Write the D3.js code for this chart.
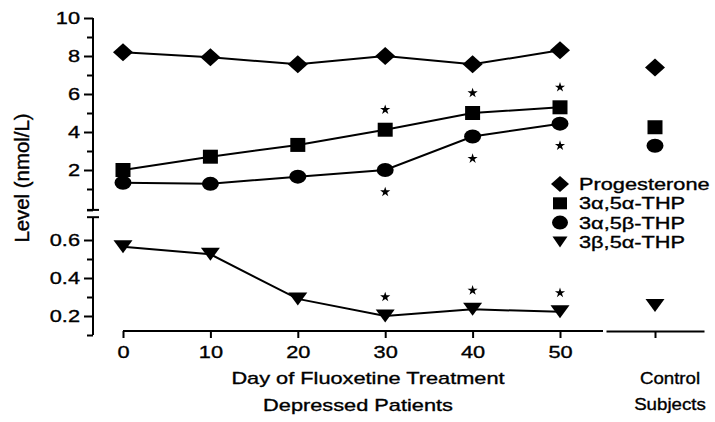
<!DOCTYPE html>
<html>
<head>
<meta charset="utf-8">
<script src="https://cdn.jsdelivr.net/npm/d3@7"></script>
<style>
  body { margin: 0; background: #fff; }
  text { font-family: "Liberation Sans", Arial, Helvetica, sans-serif; font-size: 17px; fill: #000; stroke: #000; stroke-width: 0.35px; }
</style>
</head>
<body>
<svg id="chart" width="715" height="422"></svg>
<script>
// Steroid levels (nmol/L) over the course of fluoxetine treatment
const days = [0, 10, 20, 30, 40, 50];
const progesterone = [8.2, 7.93, 7.56, 8.0, 7.56, 8.3];
const thp3a5a = [2.0, 2.7, 3.32, 4.12, 5.0, 5.3];
const thp3a5b = [1.33, 1.27, 1.65, 2.0, 3.76, 4.44];
const thp3b5a = [0.565, 0.525, 0.29, 0.2, 0.235, 0.222];

// Control subjects, same order as the series names
const seriesNames = ["Progesterone", "3\u03b1,5\u03b1-THP", "3\u03b1,5\u03b2-THP", "3\u03b2,5\u03b1-THP"];
const controlValues = [7.4, 4.25, 3.28, 0.255];
const controlLabel = ["Control", "Subjects"];

// Days with a significant change (asterisks)
const sigDays3a5a = [30, 40, 50];
const sigDays3a5b = [30, 40, 50];
const sigDays3b5a = [30, 40, 50];

// Axis ticks
const dayTicks = [0, 10, 20, 30, 40, 50];
const upperMajor = [2, 4, 6, 8, 10];
const upperMinor = [1, 3, 5, 7, 9, -0.1];
const lowerMajor = [0.2, 0.4, 0.6];
const lowerMinor = [0.1, 0.3, 0.5];

const svg = d3.select("#chart");
const STRETCH = 1.28;   // wide lettering of the figure

const x = d3.scaleLinear().domain([0, 50]).range([123, 560]);
const xCtrl = d3.scalePoint().domain(["Control"]).range([606, 704]).padding(0.5);
const yUp = d3.scaleLinear().domain([0, 10]).range([208, 18]);
const yLow = d3.scaleLinear().domain([0.2, 0.6]).range([316, 240]);
const axisX = 93, axisY = 331;

// Widen text horizontally around its anchor point
function widen(sel, k = STRETCH) {
  sel.each(function () {
    const t = d3.select(this);
    const tx = +t.attr("x") || 0, ty = +t.attr("y") || 0;
    t.attr("x", 0).attr("y", 0).attr("transform", `translate(${tx},${ty}) scale(${k},1)`);
  });
}

// ---- y axes (broken) ----
function yAxisPart(scale, major, minor, fmt, lo, hi) {
  const g = svg.append("g").attr("transform", `translate(${axisX},0)`);
  g.append("g").call(d3.axisLeft(scale).tickValues(major).tickSize(9).tickPadding(4).tickFormat(fmt))
    .call(a => a.select(".domain").remove());
  g.append("g").call(d3.axisLeft(scale).tickValues(minor).tickSize(6).tickFormat(""))
    .call(a => a.select(".domain").remove());
  g.append("line").attr("x1", 0).attr("x2", 0)
    .attr("y1", scale(hi)).attr("y2", scale(lo));
  g.selectAll("line").attr("stroke", "#000").attr("stroke-width", 2);
  g.selectAll(".tick text").style("font-size", "17px").attr("fill", "#000").call(widen);
  return g;
}
const gUp = yAxisPart(yUp, upperMajor, upperMinor, d3.format("d"), -0.1, 10);
const gLow = yAxisPart(yLow, lowerMajor, lowerMinor, d3.format(".1f"), 0.1, 0.72);
// break caps
[[gUp, yUp(-0.1)], [gLow, yLow(0.72)]].forEach(([g, yy]) => {
  g.append("line").attr("x1", -6).attr("x2", 6).attr("y1", yy).attr("y2", yy)
    .attr("stroke", "#000").attr("stroke-width", 2);
});

svg.append("text")
  .attr("transform", "translate(29,178) rotate(-90) scale(1.2,1.15)")
  .attr("text-anchor", "middle")
  .text("Level (nmol/L)");

// ---- x axes ----
const gx = svg.append("g").attr("transform", `translate(0,${axisY})`);
gx.call(d3.axisBottom(x).tickValues(dayTicks).tickSize(7).tickPadding(8).tickFormat(d3.format("d")))
  .call(a => a.select(".domain").remove());
gx.append("line").attr("x1", x(0)).attr("x2", 603).attr("y1", 0).attr("y2", 0);
gx.selectAll("line").attr("stroke", "#000").attr("stroke-width", 2);
gx.selectAll(".tick text").style("font-size", "17px").attr("fill", "#000").call(widen);

const gc = svg.append("g").attr("transform", `translate(0,${axisY})`);
gc.call(d3.axisBottom(xCtrl).tickSize(7).tickSizeOuter(0).tickFormat(""));
gc.select(".domain").attr("stroke", "#000").attr("stroke-width", 2);
gc.selectAll("line").attr("stroke", "#000").attr("stroke-width", 2);

function label(txt, cx, by, k) {
  svg.append("text").attr("x", cx).attr("y", by).attr("text-anchor", "middle").text(txt).call(widen, k);
}
label("Day of Fluoxetine Treatment", 368, 384);
label("Depressed Patients", 358, 411);
label(controlLabel[0], 670, 384, 1.1);
label(controlLabel[1], 670, 410, 1.1);

// ---- marker shapes ----
const shapes = {
  diamond: (w, h) => `M0,${-h / 2}L${w / 2},0L0,${h / 2}L${-w / 2},0Z`,
  square: (w, h) => `M${-w / 2},${-h / 2}h${w}v${h}h${-w}Z`,
  circle: (w, h) => `M${-w / 2},0a${w / 2},${h / 2} 0 1,0 ${w},0a${w / 2},${h / 2} 0 1,0 ${-w},0Z`,
  triangle: (w, h) => `M${-w / 2},${-h / 2}L${w / 2},${-h / 2}L0,${h / 2}Z`
};
const series = [
  { name: seriesNames[0], values: progesterone, y: yUp, shape: "diamond", w: 20, h: 18, lw: 18, lh: 16 },
  { name: seriesNames[1], values: thp3a5a, y: yUp, shape: "square", w: 15, h: 14, lw: 14, lh: 12 },
  { name: seriesNames[2], values: thp3a5b, y: yUp, shape: "circle", w: 17, h: 14, lw: 16, lh: 14 },
  { name: seriesNames[3], values: thp3b5a, y: yLow, shape: "triangle", w: 19, h: 13, lw: 15, lh: 11 }
];

const line = d3.line();
series.forEach((s, i) => {
  const pts = days.map((d, j) => [x(d), s.y(s.values[j])]);
  svg.append("path").attr("d", line(pts)).attr("fill", "none")
    .attr("stroke", "#000").attr("stroke-width", 2);
  svg.append("g").selectAll("path").data(pts).join("path")
    .attr("transform", p => `translate(${p[0]},${p[1]})`)
    .attr("d", shapes[s.shape](s.w, s.h)).attr("fill", "#000");
  // control subject value
  svg.append("path")
    .attr("transform", `translate(${xCtrl("Control")},${s.y(controlValues[i])})`)
    .attr("d", shapes[s.shape](s.w, s.h)).attr("fill", "#000");
});

// ---- significance asterisks ----
const star = d3.symbol(d3.symbolStar).size(32)();
function stars(dList, vals, scale, offset) {
  svg.append("g").selectAll("path").data(dList).join("path")
    .attr("transform", d => `translate(${x(d)},${scale(vals[days.indexOf(d)]) + offset})`)
    .attr("d", star).attr("fill", "#000");
}
stars(sigDays3a5a, thp3a5a, yUp, -20);
stars(sigDays3a5b, thp3a5b, yUp, 22);
stars(sigDays3b5a, thp3b5a, yLow, -19);

// ---- legend ----
const legend = svg.append("g").attr("transform", "translate(560,184)");
series.forEach((s, i) => {
  const row = legend.append("g").attr("transform", `translate(0,${i * 19.3})`);
  row.append("path").attr("d", shapes[s.shape](s.lw, s.lh)).attr("fill", "#000");
  row.append("text").attr("x", 19).attr("y", 6).text(s.name).call(widen);
});
</script>
</body>
</html>
